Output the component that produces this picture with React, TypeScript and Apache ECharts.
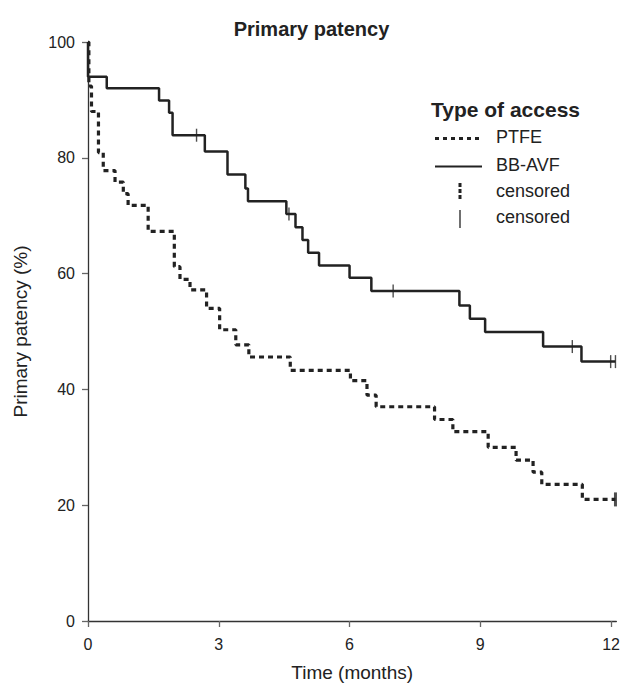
import React, { useEffect, useRef } from "react";
import * as echarts from "echarts";

const xTicks = [0, 3, 6, 9, 12];
const yTicks = [0, 20, 40, 60, 80, 100];

// Kaplan-Meier steps: [time (months), primary patency (%)]
const bbAvf: [number, number][] = [
  [0, 100], [0, 94], [0.43, 92], [1.63, 89.9], [1.86, 87.8], [1.94, 83.9],
  [2.68, 81.1], [3.2, 77.1], [3.61, 74.7], [3.67, 72.5], [4.55, 70.3],
  [4.76, 68.0], [4.92, 65.8], [5.05, 63.6], [5.3, 61.4], [6.0, 59.3],
  [6.5, 57.0], [8.52, 54.5], [8.76, 52.2], [9.11, 49.9], [10.44, 47.4],
  [11.32, 44.8], [12.1, 44.8],
];
const ptfe: [number, number][] = [
  [0, 100], [0.02, 92.4], [0.08, 88.0], [0.24, 80.9], [0.35, 77.8],
  [0.62, 75.8], [0.81, 73.8], [0.92, 71.8], [1.38, 67.3], [1.98, 61.2],
  [2.11, 59.0], [2.34, 57.2], [2.72, 54.0], [3.02, 50.3], [3.39, 47.7],
  [3.69, 45.6], [4.64, 43.3], [6.02, 41.5], [6.4, 39.0], [6.61, 37.0],
  [7.95, 34.8], [8.37, 32.7], [9.18, 30.0], [9.82, 27.8], [10.21, 25.7],
  [10.41, 23.6], [11.34, 21.0], [12.1, 21.0],
];
const bbAvfCensored: [number, number][] = [
  [2.49, 83.9], [4.61, 70.3], [7.0, 57.0], [11.11, 47.4], [11.99, 44.8], [12.1, 44.8],
];
const ptfeCensored: [number, number][] = [[12.1, 21.0]];

const FONT = "'Liberation Sans', Arial, sans-serif";
const INK = "#222";

export default function App() {
  const ref = useRef<HTMLDivElement>(null);
  useEffect(() => {
    if (!ref.current) return;
    const chart = echarts.init(ref.current, undefined, { renderer: "svg" });
    chart.setOption({
      animation: false,
      backgroundColor: "#fff",
      textStyle: { fontFamily: FONT, color: INK },
      title: {
        text: "Primary patency",
        left: "center",
        top: 14,
        textStyle: { fontFamily: FONT, fontSize: 20, fontWeight: "bold", color: INK },
      },
      grid: { left: 88, right: 6, top: 42, bottom: 62, containLabel: false },
      xAxis: {
        type: "value",
        min: 0,
        max: 12.12,
        name: "Time (months)",
        nameLocation: "middle",
        nameGap: 42,
        nameTextStyle: { fontFamily: FONT, fontSize: 19, color: INK },
        axisLine: { lineStyle: { color: "#333", width: 1.3 } },
        axisTick: { customValues: xTicks, length: 6, lineStyle: { color: "#666", width: 1.3 } },
        axisLabel: { customValues: xTicks, fontFamily: FONT, fontSize: 16, color: INK, margin: 15 },
        splitLine: { show: false },
      },
      yAxis: {
        type: "value",
        min: 0,
        max: 100,
        interval: 20,
        name: "Primary patency (%)",
        nameLocation: "middle",
        nameGap: 58,
        nameTextStyle: { fontFamily: FONT, fontSize: 19, color: INK },
        axisLine: { show: true, lineStyle: { color: "#333", width: 1.3 } },
        axisTick: { show: true, customValues: yTicks, length: 6, lineStyle: { color: "#666", width: 1.3 } },
        axisLabel: { customValues: yTicks, fontFamily: FONT, fontSize: 16, color: INK, margin: 13 },
        splitLine: { show: false },
      },
      series: [
        {
          name: "PTFE",
          type: "line",
          step: "end",
          data: ptfe,
          showSymbol: false,
          symbol: "none",
          lineStyle: { color: INK, width: 3.2, type: [5, 4], cap: "butt" },
          z: 2,
        },
        {
          name: "BB-AVF",
          type: "line",
          step: "end",
          data: bbAvf,
          showSymbol: false,
          symbol: "none",
          lineStyle: { color: INK, width: 2.5 },
          z: 3,
        },
        {
          name: "PTFE censored",
          type: "scatter",
          data: ptfeCensored,
          symbol: "rect",
          symbolSize: [3, 14],
          itemStyle: { color: INK },
          z: 4,
        },
        {
          name: "BB-AVF censored",
          type: "scatter",
          data: bbAvfCensored,
          symbol: "rect",
          symbolSize: [1.4, 13],
          itemStyle: { color: INK },
          z: 4,
        },
      ],
      graphic: [
        {
          type: "text",
          left: 431,
          top: 99,
          style: { text: "Type of access", font: `bold 21px ${FONT}`, fill: INK },
        },
        {
          type: "line",
          shape: { x1: 435, y1: 138.5, x2: 482, y2: 138.5 },
          style: { stroke: INK, lineWidth: 3, lineDash: [4, 4] },
        },
        {
          type: "text",
          left: 496,
          top: 128,
          style: { text: "PTFE", font: `18px ${FONT}`, fill: INK },
        },
        {
          type: "line",
          shape: { x1: 435, y1: 166.5, x2: 482, y2: 166.5 },
          style: { stroke: INK, lineWidth: 2.2 },
        },
        {
          type: "text",
          left: 496,
          top: 156,
          style: { text: "BB-AVF", font: `18px ${FONT}`, fill: INK },
        },
        {
          type: "line",
          shape: { x1: 460, y1: 183, x2: 460, y2: 199 },
          style: { stroke: INK, lineWidth: 3, lineDash: [4, 2] },
        },
        {
          type: "text",
          left: 496,
          top: 182,
          style: { text: "censored", font: `18px ${FONT}`, fill: INK },
        },
        {
          type: "line",
          shape: { x1: 460, y1: 210, x2: 460, y2: 228 },
          style: { stroke: INK, lineWidth: 1.3 },
        },
        {
          type: "text",
          left: 496,
          top: 208,
          style: { text: "censored", font: `18px ${FONT}`, fill: INK },
        },
      ],
    });
    return () => chart.dispose();
  }, []);
  return (
    <div
      ref={ref}
      style={{ position: "fixed", left: 0, top: 0, width: 623, height: 687, background: "#fff" }}
    />
  );
}
